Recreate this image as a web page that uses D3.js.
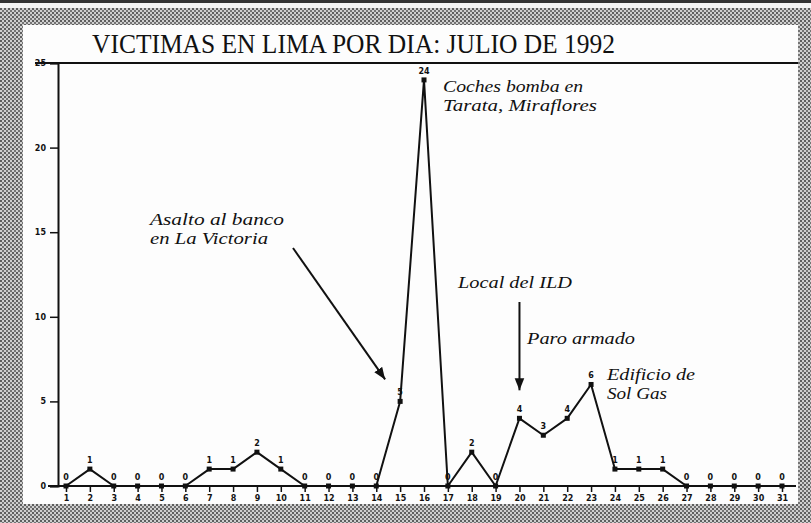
<!DOCTYPE html>
<html>
<head>
<meta charset="utf-8">
<script src="https://cdn.jsdelivr.net/npm/d3@7"></script>
<style>
  body { margin: 0; background: #fff; }
  svg { display: block; }
  .tick-label { font-family: "DejaVu Sans", sans-serif; font-weight: bold; font-size: 8px; fill: #111; }
  .note { font-family: "Liberation Serif", serif; font-style: italic; font-size: 16px; fill: #111; }
</style>
</head>
<body>
<svg width="811" height="523"></svg>
<script>
//
// the values
//
var days = d3.range(1, 32);
var victims = [0, 1, 0, 0, 0, 0, 1, 1, 2, 1, 0, 0, 0, 0, 5, 24, 0, 2, 0, 4, 3, 4, 6, 1, 1, 1, 0, 0, 0, 0, 0];
var yTicks = [0, 5, 10, 15, 20, 25];
var title = "VICTIMAS EN LIMA POR DIA: JULIO DE 1992";

var svg = d3.select("svg"),
    width = +svg.attr("width"),
    height = +svg.attr("height");

// hatched frame round the page
var pat = svg.append("defs").append("pattern")
    .attr("id", "hatch")
    .attr("width", 4).attr("height", 4)
    .attr("patternUnits", "userSpaceOnUse");
pat.append("rect").attr("width", 4).attr("height", 4).attr("fill", "#cfcfcf");
pat.append("rect").attr("width", 2).attr("height", 2).attr("fill", "#5e5e5e");
pat.append("rect").attr("x", 2).attr("y", 2).attr("width", 2).attr("height", 2).attr("fill", "#747474");

svg.append("rect").attr("width", width).attr("height", height).attr("fill", "url(#hatch)");
svg.append("rect").attr("width", width).attr("height", 3).attr("fill", "#333");
svg.append("rect").attr("y", 3).attr("width", width).attr("height", 5).attr("fill", "#f4f4f4");
svg.append("rect")
    .attr("x", 23).attr("y", 25)
    .attr("width", 775).attr("height", 479)
    .attr("fill", "#fdfdfd");

var x = d3.scaleLinear().domain([1, 31]).range([66, 782]);
var y = d3.scaleLinear().domain([0, 25]).range([486, 63]);

// title
svg.append("text")
    .attr("x", 92).attr("y", 53)
    .attr("textLength", 523)
    .attr("lengthAdjust", "spacingAndGlyphs")
    .style("font-family", "'Liberation Serif', serif")
    .style("font-size", "28px")
    .style("fill", "#111")
    .text(title);

// top rule (also the top of the plot)
svg.append("line")
    .attr("x1", 35).attr("x2", 798)
    .attr("y1", y(25)).attr("y2", y(25))
    .attr("stroke", "#111").attr("stroke-width", 2);

//
// y axis
//
var yAxis = svg.append("g")
    .attr("transform", "translate(58,0)")
    .call(d3.axisLeft(y).tickValues(yTicks).tickSize(8).tickFormat(d3.format("d")));
yAxis.select(".domain").attr("stroke", "#111").attr("stroke-width", 2);
yAxis.selectAll(".tick line").attr("stroke", "#111").attr("stroke-width", 1.5);
yAxis.selectAll(".tick text")
    .attr("class", "tick-label")
    .attr("x", -12);

//
// x axis
//
svg.append("line")
    .attr("x1", 48).attr("x2", 796)
    .attr("y1", y(0)).attr("y2", y(0))
    .attr("stroke", "#111").attr("stroke-width", 2);

var xAxis = svg.append("g")
    .attr("transform", "translate(0," + y(0) + ")")
    .call(d3.axisBottom(x).tickValues(days).tickSize(6).tickFormat(d3.format("d")));
xAxis.select(".domain").remove();
xAxis.selectAll(".tick line").attr("stroke", "#111").attr("stroke-width", 1.5);
xAxis.selectAll(".tick text")
    .attr("class", "tick-label")
    .attr("y", 9);

//
// the series
//
var data = days.map(function (d, i) { return {day: d, value: victims[i]}; });

var line = d3.line()
    .x(function (d) { return x(d.day); })
    .y(function (d) { return y(d.value); });

svg.append("path")
    .datum(data)
    .attr("d", line)
    .attr("fill", "none")
    .attr("stroke", "#111")
    .attr("stroke-width", 2)
    .attr("stroke-linejoin", "round");

svg.selectAll(".dot")
    .data(data)
    .enter().append("rect")
    .attr("class", "dot")
    .attr("x", function (d) { return x(d.day) - 2.5; })
    .attr("y", function (d) { return y(d.value) - 2.5; })
    .attr("width", 5).attr("height", 5)
    .attr("fill", "#111");

svg.selectAll(".val")
    .data(data)
    .enter().append("text")
    .attr("class", "tick-label")
    .attr("text-anchor", "middle")
    .attr("x", function (d) { return x(d.day); })
    .attr("y", function (d) { return y(d.value) - 6; })
    .text(function (d) { return d.value; });

//
// annotations
//
var notes = [
  {lines: ["Coches bomba en", "Tarata, Miraflores"], x: 443, y: 92, w: [140, 154]},
  {lines: ["Asalto al banco", "en La Victoria"], x: 150, y: 225, w: [134, 118]},
  {lines: ["Local del ILD"], x: 458, y: 288, w: [114]},
  {lines: ["Paro armado"], x: 527, y: 344, w: [108]},
  {lines: ["Edificio de", "Sol Gas"], x: 607, y: 380, w: [88, 60]}
];

notes.forEach(function (n) {
  n.lines.forEach(function (t, i) {
    svg.append("text")
      .attr("class", "note")
      .attr("x", n.x)
      .attr("y", n.y + i * 19)
      .attr("textLength", n.w[i])
      .attr("lengthAdjust", "spacingAndGlyphs")
      .text(t);
  });
});

svg.select("defs").append("marker")
    .attr("id", "arrow")
    .attr("viewBox", "0 0 10 10")
    .attr("refX", 10).attr("refY", 5)
    .attr("markerWidth", 6).attr("markerHeight", 6)
    .attr("orient", "auto")
  .append("path")
    .attr("d", "M0,1L10,5L0,9Z")
    .attr("fill", "#111");

svg.append("line")
    .attr("x1", 293).attr("y1", 248)
    .attr("x2", x(15) - 15).attr("y2", y(5) - 22)
    .attr("stroke", "#111").attr("stroke-width", 2)
    .attr("marker-end", "url(#arrow)");

svg.append("line")
    .attr("x1", x(20)).attr("y1", 302)
    .attr("x2", x(20)).attr("y2", y(4) - 28)
    .attr("stroke", "#111").attr("stroke-width", 2)
    .attr("marker-end", "url(#arrow)");
</script>
</body>
</html>
